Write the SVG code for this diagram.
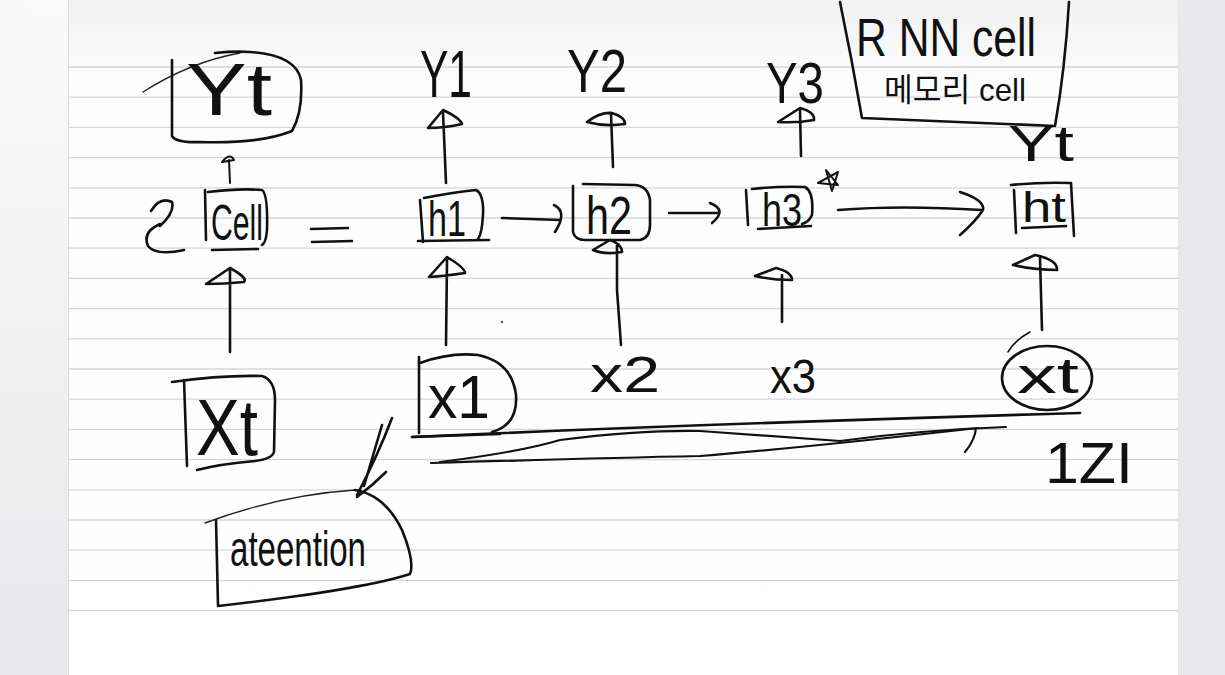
<svg xmlns="http://www.w3.org/2000/svg" width="1225" height="675" viewBox="0 0 1225 675">
<defs>
<radialGradient id="shade" cx="0.05" cy="0" r="0.9">
<stop offset="0" stop-color="#fafafa"/>
<stop offset="1" stop-color="#e9e9eb"/>
</radialGradient>
<linearGradient id="pagetop" x1="0" y1="0" x2="0" y2="1">
<stop offset="0" stop-color="#f1f1f2"/>
<stop offset="0.12" stop-color="#fdfdfd"/>
<stop offset="1" stop-color="#ffffff"/>
</linearGradient>
</defs>
<style>
.ink{fill:none;stroke:#111;stroke-width:2.6;stroke-linecap:round;stroke-linejoin:round}
.thin{fill:none;stroke:#222;stroke-width:1.4;stroke-linecap:round}
.rule{stroke:#d6d6da;stroke-width:1.3}
.t{fill:#111;font-family:"Liberation Sans","Noto Sans CJK KR",sans-serif}
</style>
<rect x="0" y="0" width="1225" height="675" fill="url(#shade)"/>
<rect x="68" y="0" width="1110" height="675" fill="url(#pagetop)"/>
<line x1="68.5" y1="0" x2="68.5" y2="675" stroke="#dcdcdf" stroke-width="1"/>
<line x1="1178.5" y1="0" x2="1178.5" y2="675" stroke="#e2e2e5" stroke-width="1"/>
<g id="ruling">
<line class="rule" x1="68" y1="67" x2="1178" y2="67"/>
<line class="rule" x1="68" y1="97.2" x2="1178" y2="97.2"/>
<line class="rule" x1="68" y1="127.4" x2="1178" y2="127.4"/>
<line class="rule" x1="68" y1="157.6" x2="1178" y2="157.6"/>
<line class="rule" x1="68" y1="187.8" x2="1178" y2="187.8"/>
<line class="rule" x1="68" y1="218" x2="1178" y2="218"/>
<line class="rule" x1="68" y1="248.2" x2="1178" y2="248.2"/>
<line class="rule" x1="68" y1="278.4" x2="1178" y2="278.4"/>
<line class="rule" x1="68" y1="308.6" x2="1178" y2="308.6"/>
<line class="rule" x1="68" y1="338.8" x2="1178" y2="338.8"/>
<line class="rule" x1="68" y1="369" x2="1178" y2="369"/>
<line class="rule" x1="68" y1="399.2" x2="1178" y2="399.2"/>
<line class="rule" x1="68" y1="429.4" x2="1178" y2="429.4"/>
<line class="rule" x1="68" y1="459.6" x2="1178" y2="459.6"/>
<line class="rule" x1="68" y1="489.8" x2="1178" y2="489.8"/>
<line class="rule" x1="68" y1="520" x2="1178" y2="520"/>
<line class="rule" x1="68" y1="550.2" x2="1178" y2="550.2"/>
<line class="rule" x1="68" y1="580.4" x2="1178" y2="580.4"/>
<line class="rule" x1="68" y1="610.6" x2="1178" y2="610.6"/>
</g>

<g id="node-yt-left">
<path class="thin" d="M143 92 Q190 62 240 53"/>
<path class="ink" d="M172 60 L172 136 Q176 143 200 142 Q260 144 292 131 Q303 112 301 80 Q296 55 250 52 Q235 51 215 53"/>
<text class="t" x="186" y="115" font-size="74" textLength="86" lengthAdjust="spacingAndGlyphs">Yt</text>
</g>
<g id="node-cell">
<path class="ink" d="M205 190 L206 240 M208 192 Q240 188 262 190 Q268 194 267 230 Q266 243 262 245 M212 250 L258 249"/>
<text class="t" x="211" y="240" font-size="50" textLength="52" lengthAdjust="spacingAndGlyphs">Cell</text>
<path class="ink" d="M151 211 Q160 196 172 202 Q175 212 160 226 M160 224 Q142 232 148 246 Q156 256 184 250"/>
</g>
<g id="node-eq">
<path class="ink" d="M311 229 L348 228 M312 242 L352 241"/>
</g>
<g id="node-xt-left">
<path class="ink" d="M172 382 Q220 375 262 376 Q275 380 275 400 L274 452 Q272 459 255 461 Q220 464 197 470 M184 380 L187 466"/>
<text class="t" x="196" y="455" font-size="80" textLength="62" lengthAdjust="spacingAndGlyphs">Xt</text>
</g>

<g id="node-y1"><text class="t" x="420" y="97" font-size="66" textLength="52" lengthAdjust="spacingAndGlyphs">Y1</text></g>
<g id="node-y2"><text class="t" x="567" y="92" font-size="62" textLength="60" lengthAdjust="spacingAndGlyphs">Y2</text></g>
<g id="node-y3"><text class="t" x="766" y="103" font-size="58" textLength="58" lengthAdjust="spacingAndGlyphs">Y3</text></g>

<g id="node-h1">
<path class="ink" d="M420 200 L423 242 M424 198 Q455 192 476 190 Q484 194 483 215 Q482 234 478 239 M418 241 L489 240"/>
<text class="t" x="428" y="236" font-size="50" textLength="38" lengthAdjust="spacingAndGlyphs">h1</text>
</g>
<g id="node-h2">
<path class="ink" d="M573 186 L573 232 Q575 240 585 240 L640 240 Q650 238 650 225 L650 200 Q648 186 635 185 L583 184"/>
<text class="t" x="586" y="234" font-size="54" textLength="46" lengthAdjust="spacingAndGlyphs">h2</text>
</g>
<g id="node-h3">
<path class="ink" d="M746 190 L748 225 M752 189 Q780 186 805 187 Q814 192 812 215 Q809 222 802 224 M758 229 L811 226"/>
<text class="t" x="762" y="226" font-size="46" textLength="40" lengthAdjust="spacingAndGlyphs">h3</text>
<path class="ink" d="M818 183 L838 172 L832 191 L826 170 L838 185 Z" style="stroke-width:2"/>
</g>
<g id="node-ht">
<path class="ink" d="M1011 185 Q1040 182 1071 183 L1074 236 M1014 190 L1016 233 M1022 228 L1066 226"/>
<text class="t" x="1022" y="222" font-size="42" textLength="44" lengthAdjust="spacingAndGlyphs">ht</text>
</g>
<g id="node-yt-right">
<text class="t" x="1008" y="161" font-size="50" textLength="66" lengthAdjust="spacingAndGlyphs">Yt</text>
</g>
<g id="node-rnncell">
<path class="ink" d="M840 2 Q852 60 862 118 Q960 122 1055 126 Q1065 70 1069 2"/>
<text class="t" x="856" y="56" font-size="54" textLength="180" lengthAdjust="spacingAndGlyphs">R NN cell</text>
<text class="t" x="884" y="101" font-size="32" textLength="142" lengthAdjust="spacingAndGlyphs">메모리 cell</text>
</g>

<g id="node-x1">
<path class="ink" d="M419 357 L419 433 M420 363 Q450 352 478 355 Q512 362 516 395 Q518 425 492 432 M412 437 L500 434"/>
<text class="t" x="428" y="418" font-size="62" textLength="62" lengthAdjust="spacingAndGlyphs">x1</text>
</g>
<g id="node-x2"><text class="t" x="590" y="392" font-size="50" textLength="70" lengthAdjust="spacingAndGlyphs">x2</text></g>
<g id="node-x3"><text class="t" x="770" y="393" font-size="48" textLength="46" lengthAdjust="spacingAndGlyphs">x3</text></g>
<g id="node-xt-right">
<ellipse class="ink" cx="1047" cy="378" rx="45" ry="32"/>
<path class="ink" d="M1030 332 Q1015 340 1008 352" style="stroke-width:1.6"/>
<text class="t" x="1017" y="393" font-size="50" textLength="62" lengthAdjust="spacingAndGlyphs">xt</text>
</g>

<g id="node-attention">
<path class="thin" d="M205 523 Q280 495 355 490"/>
<path class="ink" d="M355 490 Q385 495 402 530 Q415 562 410 574 Q360 590 218 606 M216 520 L218 605"/>
<text class="t" x="230" y="566" font-size="50" textLength="136" lengthAdjust="spacingAndGlyphs">ateention</text>
</g>
<g id="node-1zi">
<text class="t" x="1045" y="483" font-size="58" textLength="88" lengthAdjust="spacingAndGlyphs">1ZI</text>
</g>

<g id="connectors">
<path class="ink" d="M230 183 L229 160 M222 162 Q230 152 234 160 Z" style="stroke-width:2"/>
<path class="ink" d="M230 352 L230 269 M206 284 L230 268 Q248 278 244 282 Q225 284 206 284 Z"/>
<path class="ink" d="M446 183 L443 112 M428 128 L443 110 Q460 118 462 124 Q445 128 428 128 Z"/>
<path class="ink" d="M613 167 L611 114 M587 122 Q600 112 612 113 Q625 117 625 124 Q605 127 587 122 Z"/>
<path class="ink" d="M801 156 L800 110 M778 122 L800 108 Q815 112 814 120 Q798 123 778 122 Z"/>
<path class="ink" d="M502 218 L560 220 M554 205 Q568 212 555 232"/>
<path class="ink" d="M669 213 L718 213 M710 203 Q728 210 712 223"/>
<path class="ink" d="M838 210 Q900 205 982 210 M960 192 Q985 200 983 210 Q975 222 960 235"/>
<path class="ink" d="M446 345 L447 260 M429 277 L447 257 Q465 268 465 273 Q445 276 429 277 Z"/>
<path class="ink" d="M621 345 L617 290 L617 245 M593 250 L610 240 Q622 244 622 252 Q605 255 593 250 Z"/>
<path class="ink" d="M782 322 L782 275 M755 276 L776 268 Q792 272 792 280 Q772 280 755 276 Z"/>
<path class="ink" d="M1042 330 L1040 258 M1013 265 L1035 255 Q1058 260 1057 270 Q1035 270 1013 265 Z"/>
<path class="ink" d="M412 437 Q700 424 1080 413"/>
<path class="ink" d="M440 462 Q520 452 560 440 Q640 430 700 431 Q780 437 840 441 Q920 430 1006 427" style="stroke-width:2.2"/>
<path class="ink" d="M431 463 Q600 458 700 456 Q800 448 978 428 M976 428 Q975 440 965 452" style="stroke-width:2.2"/>
<path class="ink" d="M392 418 Q378 455 357 495 M382 425 L364 486 M386 472 Q372 486 357 497"/>
<circle cx="502" cy="322" r="1.2" fill="#555"/>
</g>
</svg>
